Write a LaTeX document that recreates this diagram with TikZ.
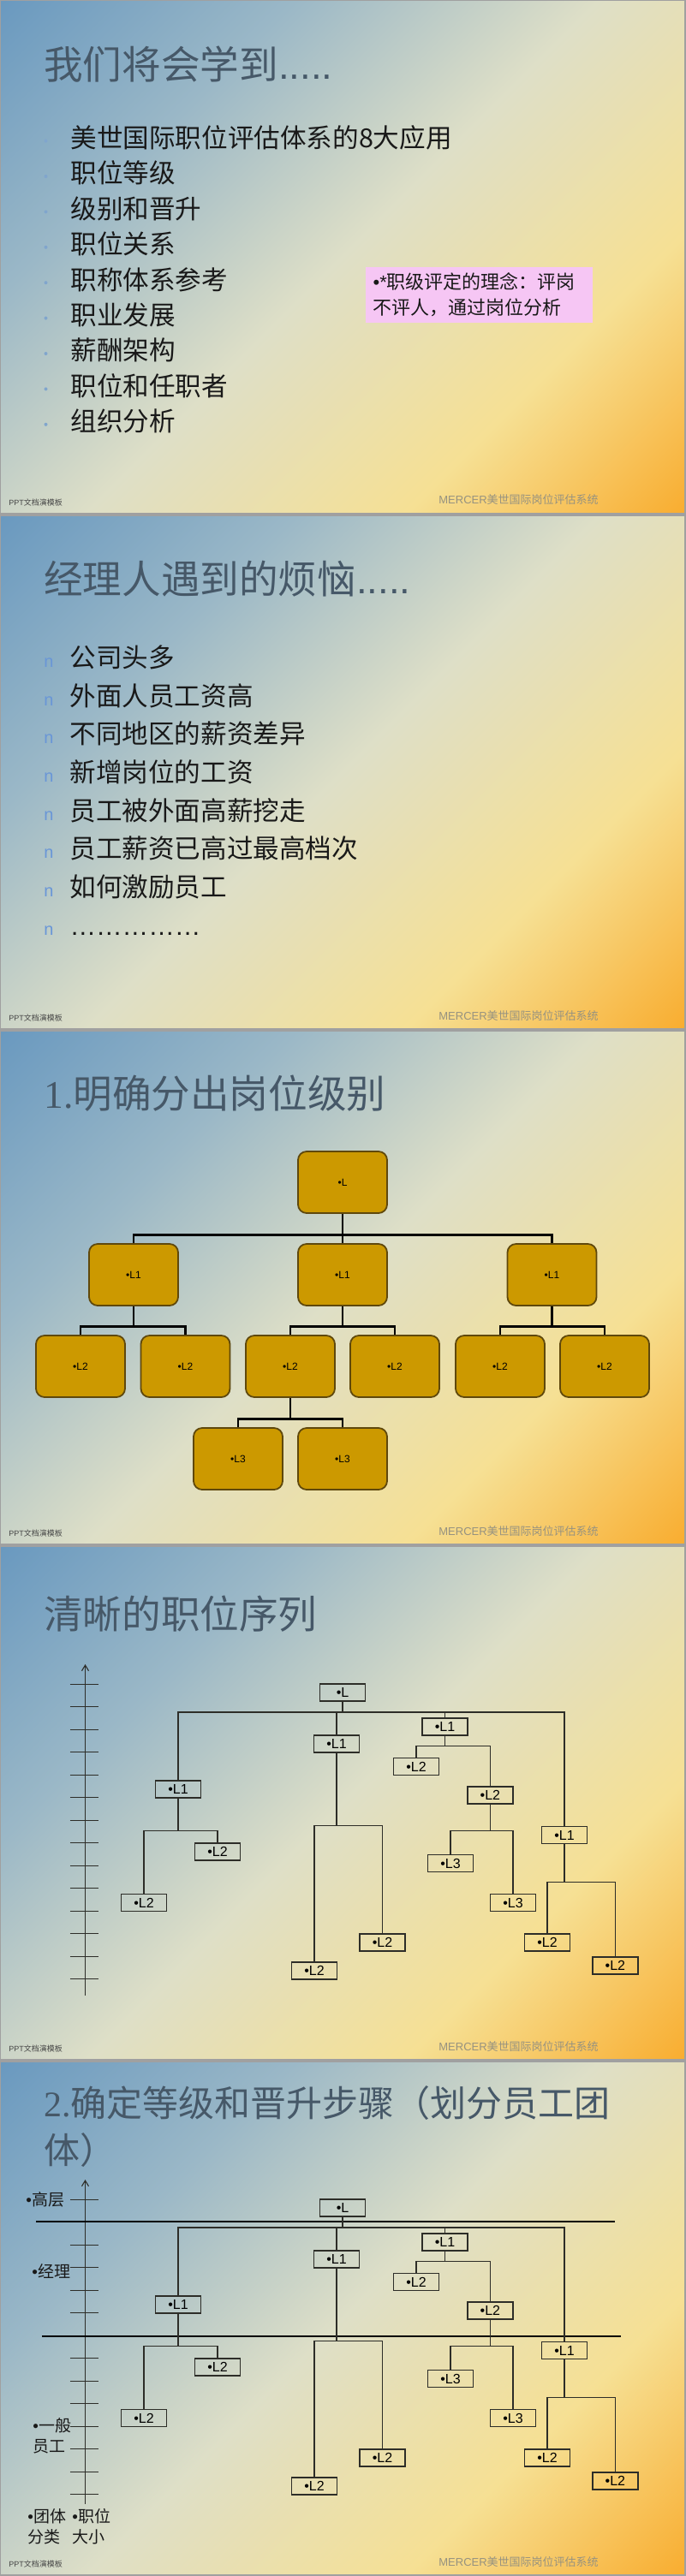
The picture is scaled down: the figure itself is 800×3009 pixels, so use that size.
\documentclass[tikz,border=0pt]{standalone}
\usepackage{fontspec}
\setmainfont{Noto Sans CJK SC}
\newfontfamily\lat{Liberation Sans}
\newfontfamily\latserif{Liberation Serif}
\usetikzlibrary{arrows.meta}
\definecolor{BgBlue}{RGB}{104,152,191}
\definecolor{BgSteel}{RGB}{155,184,199}
\definecolor{BgCream}{RGB}{222,223,199}
\definecolor{BgYellow}{RGB}{246,224,148}
\definecolor{BgOrange}{RGB}{249,168,38}
\definecolor{McGap}{RGB}{182,182,182}
\definecolor{McFrame}{RGB}{160,160,160}
\definecolor{McTitle}{RGB}{70,88,104}
\definecolor{McText}{RGB}{25,25,25}
\definecolor{McDot}{RGB}{128,165,205}
\definecolor{McN}{RGB}{105,150,215}
\definecolor{McPink}{RGB}{246,198,244}
\definecolor{McGold}{RGB}{204,153,0}
\definecolor{McGoldEdge}{RGB}{95,72,12}
\definecolor{McLine}{RGB}{45,45,40}
\definecolor{McFoot}{RGB}{150,146,128}
\definecolor{McFootDark}{RGB}{70,70,70}
\pgfdeclareverticalshading{mcbg}{100bp}{color(0bp)=(BgOrange); color(13bp)=(BgOrange); color(31bp)=(BgYellow); color(50bp)=(BgCream); color(68bp)=(BgSteel); color(86bp)=(BgBlue); color(100bp)=(BgBlue)}
\tikzset{
  mc/frame/.style={draw=McFrame, line width=0.8pt},
  mc/title/.style={
    anchor=west,
    inner sep=0pt,
    text=McTitle,
    font=\fontsize{22.8}{27.5}\selectfont
  },
  mc/item/.style={
    anchor=base west,
    inner sep=0pt,
    text=McText,
    font=\fontsize{15.3}{18}\selectfont
  },
  mc/note/.style={
    fill=McPink,
    text=McText,
    align=left,
    text width=123.5pt,
    inner xsep=4.5pt,
    minimum height=30.5pt,
    font=\fontsize{11}{15}\selectfont
  },
  mc/goldbox/.style={
    draw=McGoldEdge,
    line width=0.9pt,
    fill=McGold,
    rounded corners=5pt,
    minimum width=52pt,
    minimum height=36pt,
    inner sep=0pt,
    font=\lat\fontsize{6}{7}\selectfont
  },
  mc/goldlink/.style={draw=black, line width=1.4pt},
  mc/tag/.style={
    draw=McLine,
    line width=0.75pt,
    minimum width=26.5pt,
    minimum height=10pt,
    inner sep=0pt,
    font=\lat\fontsize{8}{9}\selectfont
  },
  mc/link/.style={draw=McLine, line width=0.6pt},
  mc/axis/.style={draw=McLine, line width=0.55pt, -{Straight Barb[length=3.3pt,width=4pt]}},
  mc/tick/.style={draw=McLine, line width=0.6pt},
  mc/heavy/.style={draw=black, line width=1.1pt},
  mc/side/.style={anchor=west, inner sep=0pt, text=McText, align=left, font=\fontsize{9.5}{12}\selectfont},
  mc/ppt/.style={anchor=west, inner sep=0pt, text=McFootDark, font=\fontsize{4.5}{5}\selectfont},
  mc/mercer/.style={anchor=west, inner sep=0pt, text=McFoot, font=\fontsize{6.5}{7}\selectfont}
}
\newcommand\nmark{{\lat\fontsize{10}{12}\selectfont\textcolor{McN}{n}}\hspace{9.5pt}}
\newcommand\slidebase{%
  \shade[shading=mcbg, shading angle=45] (0,0) rectangle (800,600);
  \draw[mc/frame] (0,0) rectangle (800,600);
  \node[mc/ppt] (ppt) at (10,587) {{\lat PPT}文档演模板};
  \node[mc/mercer] (mercer) at (512,584) {{\lat MERCER}美世国际岗位评估系统};
}
\newcommand\seqtree{%
  \foreach \nd/\txt/\x/\y in {r/L/400/171.2,a/L1/208/284.2,a1/L2/168/416.5,a2/L2/254/357.2,
    b/L1/393/231,b1/L2/367/496.2,b2/L2/446.5/463.2,c/L1/519.5/211,c1/L2/486/257.7,
    c2/L2/572.4/291,c21/L3/526/370.6,c22/L3/599/416.5,d/L1/659/337.5,d1/L2/639/463,d2/L2/718.4/490}
    {\node[mc/tag] (\nd) at (\x,\y) {•\txt};}
  \foreach \kid/\up/\gap in {a/r/79.5,b/r/26.3,c/r/6.3,d/r/132.8,a1/a/72.9,a2/a/13.6,
    b1/b/159.2,b2/b/126.2,c1/c/13.7,c2/c/47,c21/c2/27,c22/c2/72.9,d1/d/59.5,d2/d/86.5}
    {\draw[mc/link] (\kid.north) -- ++(0,-\gap) -| (\up.south);}
}
\begin{document}
\begin{tikzpicture}[x=0.5pt,y=-0.5pt]
  \useasboundingbox (0,0) rectangle (800,3009);
  \fill[McGap] (0,0) rectangle (800,3009);

  \begin{scope}[name prefix=s1-]
    \slidebase
    \node[mc/title] (title) at (51,75) {我们将会学到{\lat .....}};
    \foreach \txt [count=\i] in {美世国际职位评估体系的8大应用,职位等级,级别和晋升,职位关系,职称体系参考,职业发展,薪酬架构,职位和任职者,组织分析}
    {
      \node[mc/item] (item\i) at (82,{172.4+41.4*(\i-1)}) {\txt};
      \fill[McDot] ([shift={(-28.5,-7.8)}]item\i.base west) circle[radius=1pt];
    }
    \node[mc/note] (note) at (559.2,344.5) {{\lat •*}职级评定的理念：评岗\\不评人，通过岗位分析};
  \end{scope}

  \begin{scope}[shift={(0,602)}, name prefix=s2-]
    \slidebase
    \node[mc/title] (title) at (51,74.5) {经理人遇到的烦恼{\lat .....}};
    \foreach \txt [count=\i] in {公司头多,外面人员工资高,不同地区的薪资差异,新增岗位的工资,员工被外面高薪挖走,员工薪资已高过最高档次,如何激励员工,{\lat ……………}}
      {\node[mc/item] (item\i) at (51,{177.4+44.67*(\i-1)}) {\nmark\txt};}
  \end{scope}

  \begin{scope}[shift={(0,1204)}, name prefix=s3-]
    \slidebase
    \node[mc/title] (title) at (51,73.5) {{\latserif 1.}明确分出岗位级别};
    \foreach \nd/\txt/\x/\y in {t0/L/400/177,t1/L1/156/285,t2/L1/400/285,t3/L1/644.5/285,
      t11/L2/94/392,t12/L2/216.5/392,t21/L2/339/392,t22/L2/461/392,t31/L2/584/392,t32/L2/706/392,
      t211/L3/278/500,t212/L3/400/500}
      {\node[mc/goldbox] (\nd) at (\x,\y) {•\txt};}
    \foreach \kid/\up in {t1/t0,t2/t0,t3/t0,t11/t1,t12/t1,t21/t2,t22/t2,t31/t3,t32/t3,t211/t21,t212/t21}
      {\draw[mc/goldlink] (\kid.north) -- ++(0,-10) -| (\up.south);}
  \end{scope}

  \begin{scope}[shift={(0,1806)}, name prefix=s4-]
    \slidebase
    \node[mc/title] (title) at (51,79.6) {清晰的职位序列};
    \draw[mc/axis] (99.5,525) -- (99.5,138);
    \foreach \k in {0,...,13}
      {\draw[mc/tick] (81.6,{161.2+26.5*\k}) -- (115,{161.2+26.5*\k});}
    \seqtree
  \end{scope}

  \begin{scope}[shift={(0,2408)}, name prefix=s5-]
    \slidebase
    \node[mc/title, align=left, font=\fontsize{21}{27.5}\selectfont] (title) at (51,76.5)
      {{\latserif 2.}确定等级和晋升步骤（划分员工团\\体）};
    \draw[mc/axis] (99.5,517) -- (99.5,138);
    \foreach \k in {0,...,13}
      {\draw[mc/tick] (81.6,{161.2+26.5*\k}) -- (115,{161.2+26.5*\k});}
    \draw[mc/heavy] (42,187) -- (718,187);
    \draw[mc/heavy] (49,320.6) -- (724.5,320.6);
    \node[mc/side] (top) at (30,161) {{\lat •}高层};
    \node[mc/side] (mgr) at (37,245) {{\lat •}经理};
    \node[mc/side] (staff) at (38,437) {{\lat •}一般\\员工};
    \node[mc/side] (group) at (32,543) {{\lat •}团体\\分类};
    \node[mc/side] (size) at (84,543) {{\lat •}职位\\大小};
    \seqtree
  \end{scope}
\end{tikzpicture}
\end{document}
